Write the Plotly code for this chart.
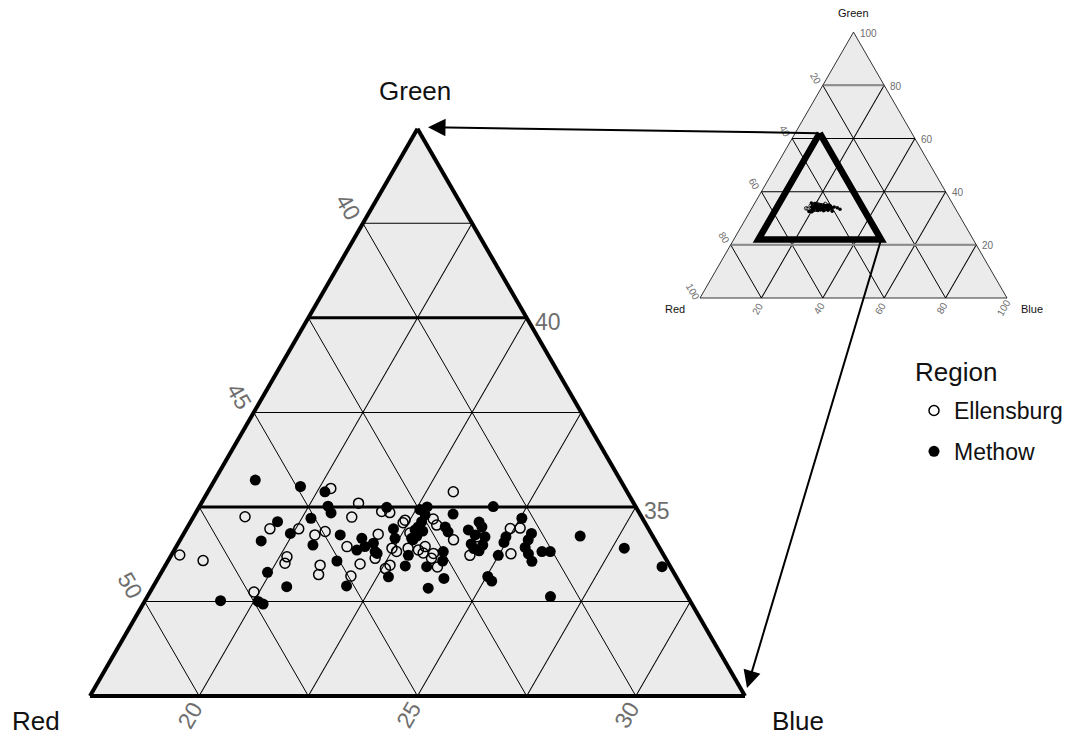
import math
import plotly.graph_objects as go

FIG_W, FIG_H = 1087, 737
FONT = "Liberation Sans, Arial, Helvetica, sans-serif"
TICK_GRAY = "#6e6e6e"
INK = "#111111"
PANEL = "#EBEBEB"

# ------------------------------------------------------------------ data
regions = ["Ellensburg", "Methow"]
legend_title = "Region"

ellensburg_green = [34.74, 34.42, 33.73, 33.58, 32.75, 35.49, 35.10, 34.73, 34.42, 34.26,
                    34.35, 33.95, 34.28, 33.68, 33.51, 33.46, 33.21, 33.49, 33.64, 33.17,
                    35.40, 34.88, 34.85, 34.65, 34.68, 34.52, 34.13, 34.31, 33.95, 33.91,
                    33.82, 33.86, 33.77, 33.64, 33.41, 33.46, 33.37, 33.72, 34.58, 33.91,
                    33.78, 34.21, 34.43, 34.44, 33.76]
ellensburg_red = [46.58, 46.17, 48.58, 48.12, 47.37, 44.24, 43.80, 44.14, 45.51, 45.22,
                  44.94, 44.64, 43.76, 46.15, 46.28, 45.50, 45.66, 44.57, 44.15, 44.94,
                  41.48, 43.38, 43.21, 42.96, 42.30, 42.30, 42.11, 43.02, 42.85, 43.63,
                  43.57, 43.05, 42.75, 42.86, 42.84, 43.90, 44.05, 41.94, 43.04, 43.26,
                  42.98, 41.53, 40.66, 40.43, 40.98]
ellensburg_blue = [18.68, 19.41, 17.69, 18.30, 19.88, 20.27, 21.10, 21.13, 20.07, 20.52,
                   20.71, 21.41, 21.96, 20.17, 20.21, 21.04, 21.13, 21.94, 22.21, 21.89,
                   23.12, 21.74, 21.94, 22.39, 23.02, 23.18, 23.76, 22.67, 23.20, 22.46,
                   22.61, 23.09, 23.48, 23.50, 23.75, 22.64, 22.58, 24.34, 22.38, 22.83,
                   23.24, 24.26, 24.91, 25.13, 25.26]

methow_green = [35.71, 34.61, 34.10, 33.27, 32.52, 32.50, 32.43, 35.54, 35.40, 35.02,
                34.84, 34.70, 34.30, 34.26, 33.99, 34.17, 33.86, 33.95, 34.04, 33.82,
                33.57, 32.91, 32.89, 34.99, 34.93, 34.79, 34.61, 34.47, 34.36, 34.23,
                34.13, 34.81, 34.47, 34.34, 34.39, 34.26, 34.42, 34.17, 33.77, 33.72,
                33.44, 33.82, 33.57, 33.42, 33.15, 33.11, 32.85, 34.02, 33.90, 34.17,
                34.60, 34.47, 34.21, 33.99, 33.84, 35.01, 34.70, 34.21, 34.06, 34.30,
                34.13, 33.93, 33.76, 33.56, 33.72, 33.82, 33.82, 33.16, 33.04, 32.63,
                34.23, 33.91, 33.42, 35.00, 34.39]
methow_red = [45.86, 45.90, 46.53, 46.80, 48.25, 47.40, 47.32, 44.91, 44.42, 44.54,
              44.56, 45.09, 45.76, 44.64, 45.40, 44.19, 44.46, 44.23, 43.99, 44.06,
              45.06, 45.17, 46.55, 43.21, 42.48, 42.43, 42.60, 42.75, 42.70, 42.90,
              43.04, 41.78, 42.13, 42.13, 41.64, 41.55, 43.34, 43.43, 44.04, 43.35,
              43.56, 42.50, 42.64, 43.08, 44.09, 42.84, 43.33, 41.76, 41.76, 43.05,
              41.29, 41.29, 41.35, 41.51, 41.67, 40.76, 40.26, 40.87, 40.99, 40.24,
              40.40, 40.57, 40.58, 40.60, 41.29, 40.24, 40.05, 41.81, 41.78, 40.64,
              39.16, 38.31, 37.69, 42.28, 42.86]
methow_blue = [18.43, 19.49, 19.37, 19.93, 19.23, 20.10, 20.25, 19.55, 20.18, 20.44,
               20.60, 20.21, 19.94, 21.10, 20.61, 21.64, 21.68, 21.82, 21.97, 22.12,
               21.37, 21.92, 20.56, 21.80, 22.59, 22.78, 22.79, 22.78, 22.94, 22.87,
               22.83, 23.41, 23.40, 23.53, 23.97, 24.19, 22.24, 22.40, 22.19, 22.93,
               23.00, 23.68, 23.79, 23.50, 22.76, 24.05, 23.82, 24.22, 24.34, 22.78,
               24.11, 24.24, 24.44, 24.50, 24.49, 24.23, 25.04, 24.92, 24.95, 25.46,
               25.47, 25.50, 25.66, 25.84, 24.99, 25.94, 26.13, 25.03, 25.18, 26.73,
               26.61, 27.78, 28.89, 22.72, 22.75]

# main (zoomed) ternary
main_min_green, main_min_red, main_min_blue = 30, 37.5, 17.5
main_span = 15
main_grid_step = 2.5
main_major_green = [35, 40]
main_green_ticks = [35, 40]
main_red_ticks = [40, 45, 50]
main_blue_ticks = [20, 25, 30]

# inset (full) ternary
inset_grid_step = 20
inset_ticks = [20, 40, 60, 80, 100]
inset_gray_green = [20, 80]
frame_green = [62, 22, 22, 62]
frame_red = [30, 70, 30, 30]
frame_blue = [8, 8, 48, 8]

SUM = 100
S3 = math.sqrt(3) / 2


class Geo:
    """Pixel geometry of a ternary triangle (left vertex x, bottom y, width)."""

    def __init__(self, xl, yb, w, gmin, rmin, bmin, span):
        self.xl, self.yb, self.w = xl, yb, w
        self.gmin, self.rmin, self.bmin, self.span = gmin, rmin, bmin, span
        self.h = w * S3

    def px(self, g, r, b):
        fa = (g - self.gmin) / self.span
        fc = (b - self.bmin) / self.span
        return self.xl + fc * self.w + fa * self.w / 2, self.yb - fa * self.h

    def domain(self, extra):
        cx = self.xl + self.w / 2
        cy = self.yb - self.h / 2
        hy = self.h / 2 + extra
        return dict(x=[self.xl / FIG_W, (self.xl + self.w) / FIG_W],
                    y=[1 - (cy + hy) / FIG_H, 1 - (cy - hy) / FIG_H])


main = Geo(90, 696, 655, main_min_green, main_min_red, main_min_blue, main_span)
inset = Geo(700, 298, 307, 0, 0, 0, SUM)


def P(x, y):
    return x / FIG_W, 1 - y / FIG_H


def label(x, y, text, size, color, angle=0, xanchor="center"):
    px_, py_ = P(x, y)
    return dict(x=px_, y=py_, xref="paper", yref="paper", text=text, showarrow=False,
                font=dict(family=FONT, size=size, color=color), textangle=angle,
                xanchor=xanchor, yanchor="middle")


fig = go.Figure()

# main: major Green gridlines (bold)
for g in main_major_green:
    fig.add_trace(go.Scatterternary(
        subplot="ternary", a=[g, g], b=[SUM - g - main_min_blue, main_min_red],
        c=[main_min_blue, SUM - g - main_min_red], mode="lines",
        line=dict(color="black", width=3), showlegend=False, hoverinfo="skip"))

# main points
fig.add_trace(go.Scatterternary(
    subplot="ternary", a=ellensburg_green, b=ellensburg_red, c=ellensburg_blue,
    mode="markers", name=regions[0], legendgroup="e",
    marker=dict(symbol="circle-open", size=10, color="black", line=dict(width=1.5))))
fig.add_trace(go.Scatterternary(
    subplot="ternary", a=methow_green, b=methow_red, c=methow_blue,
    mode="markers", name=regions[1], legendgroup="m",
    marker=dict(symbol="circle", size=11, color="black")))

# inset: gray gridlines
for g in inset_gray_green:
    fig.add_trace(go.Scatterternary(
        subplot="ternary2", a=[g, g], b=[SUM - g, 0], c=[0, SUM - g], mode="lines",
        line=dict(color="#8c8c8c", width=2), showlegend=False, hoverinfo="skip"))

# inset points
fig.add_trace(go.Scatterternary(
    subplot="ternary2", a=ellensburg_green, b=ellensburg_red, c=ellensburg_blue,
    mode="markers", showlegend=False,
    marker=dict(symbol="circle-open", size=3.5, color="black", line=dict(width=0.8))))
fig.add_trace(go.Scatterternary(
    subplot="ternary2", a=methow_green, b=methow_red, c=methow_blue,
    mode="markers", showlegend=False,
    marker=dict(symbol="circle", size=3.5, color="black")))

# inset zoom frame
fig.add_trace(go.Scatterternary(
    subplot="ternary2", a=frame_green, b=frame_red, c=frame_blue, mode="lines",
    line=dict(color="black", width=6.5), showlegend=False, hoverinfo="skip"))


def axis(mn, step, lw, gw):
    return dict(min=mn, title=dict(text=""), showticklabels=False, ticks="",
                tickmode="linear", tick0=0, dtick=step, showgrid=True,
                gridcolor="black", gridwidth=gw, showline=True, linecolor="black",
                linewidth=lw)


annotations = []

# main tick labels
for r in main_red_ticks:
    x, y = main.px(SUM - r - main_min_blue, r, main_min_blue)
    annotations.append(label(x - 15, y - 16, str(r), 23, TICK_GRAY, angle=60))
for b in main_blue_ticks:
    x, y = main.px(main_min_green, SUM - main_min_green - b, b)
    annotations.append(label(x - 9, y + 19, str(b), 23, TICK_GRAY, angle=-60))
for g in main_green_ticks:
    x, y = main.px(g, main_min_red, SUM - g - main_min_red)
    annotations.append(label(x + 6, y + 4, str(g), 23, TICK_GRAY, xanchor="left"))

# main titles
gx, gy = main.px(main_min_green + main_span, main_min_red, main_min_blue)
rx, ry = main.px(main_min_green, main_min_red + main_span, main_min_blue)
bx, by = main.px(main_min_green, main_min_red, main_min_blue + main_span)
annotations.append(label(gx - 2, gy - 38, "Green", 26, INK))
annotations.append(label(rx - 54, ry + 25, "Red", 26, INK))
annotations.append(label(bx + 53, by + 25, "Blue", 26, INK))

# inset tick labels
for r in inset_ticks:
    x, y = inset.px(SUM - r, r, 0)
    annotations.append(label(x - 7, y - 7, str(r), 10, TICK_GRAY, angle=60))
for b in inset_ticks:
    x, y = inset.px(0, SUM - b, b)
    annotations.append(label(x - 4, y + 10, str(b), 10, TICK_GRAY, angle=-60))
for g in inset_ticks:
    x, y = inset.px(g, 0, SUM - g)
    annotations.append(label(x + 4, y + 1, str(g), 10, TICK_GRAY, xanchor="left"))

# inset titles
igx, igy = inset.px(SUM, 0, 0)
irx, iry = inset.px(0, SUM, 0)
ibx, iby = inset.px(0, 0, SUM)
annotations.append(label(igx, igy - 19, "Green", 11, INK))
annotations.append(label(irx - 25, iry + 11, "Red", 11, INK))
annotations.append(label(ibx + 25, iby + 11, "Blue", 11, INK))

# legend title
annotations.append(label(913, 372, legend_title, 26, INK, xanchor="left"))

# arrows from the inset frame to the main triangle
t1x, t1y = inset.px(frame_green[0], frame_red[0], frame_blue[0])
t2x, t2y = inset.px(frame_green[2], frame_red[2], frame_blue[2])
h1x, h1y = gx + 10.5, gy - 1.5
h2x, h2y = bx + 2, by - 8
for (hx, hy, tx, ty) in [(h1x, h1y, t1x, t1y), (h2x, h2y, t2x, t2y)]:
    px_, py_ = P(hx, hy)
    annotations.append(dict(x=px_, y=py_, xref="paper", yref="paper", text="",
                            showarrow=True, ax=tx - hx, ay=ty - hy,
                            axref="pixel", ayref="pixel", arrowhead=2, arrowsize=1.75,
                            arrowwidth=2, arrowcolor="black", standoff=0,
                            startstandoff=0))

fig.update_layout(
    width=FIG_W, height=FIG_H,
    margin=dict(l=0, r=0, t=0, b=0),
    paper_bgcolor="white",
    font=dict(family=FONT, color=INK),
    ternary=dict(
        domain=main.domain(25), sum=SUM, bgcolor=PANEL,
        aaxis=axis(main_min_green, main_grid_step, 4, 1.3),
        baxis=axis(main_min_red, main_grid_step, 4, 1.4),
        caxis=axis(main_min_blue, main_grid_step, 4, 1.4)),
    ternary2=dict(
        domain=inset.domain(10), sum=SUM, bgcolor=PANEL,
        aaxis=axis(0, inset_grid_step, 0.8, 0.7),
        baxis=axis(0, inset_grid_step, 0.8, 0.7),
        caxis=axis(0, inset_grid_step, 0.8, 0.7)),
    annotations=annotations,
    showlegend=True,
    legend=dict(x=914 / FIG_W, y=1 - 389 / FIG_H, xanchor="left", yanchor="top",
                bgcolor="rgba(0,0,0,0)", tracegroupgap=8,
                font=dict(family=FONT, size=23, color=INK)),
)

fig.write_html("out.html", config={"displayModeBar": False},
               post_script="document.body.style.margin='0';")
